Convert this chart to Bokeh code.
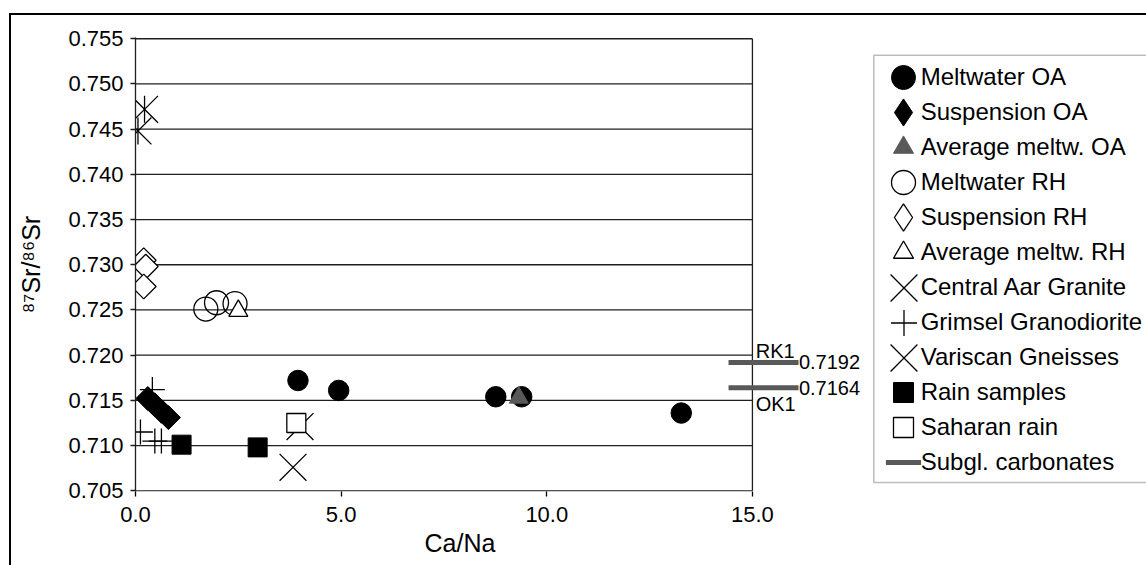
import math
from bokeh.plotting import figure
from bokeh.models import (Range1d, FixedTicker, PrintfTickFormatter, Legend, LegendItem,
                          BoxAnnotation, Label, Title)
from bokeh.embed import file_html
from bokeh.resources import INLINE

# ---------------- data ----------------
meltwater_oa_x = [3.95, 4.94, 8.76, 9.39, 13.27]
meltwater_oa_y = [0.7172, 0.7161, 0.7154, 0.7154, 0.7136]
suspension_oa_x = [0.30, 0.47, 0.63, 0.80]
suspension_oa_y = [0.7152, 0.7145, 0.7138, 0.7131]
avg_meltw_oa_x = [9.32]
avg_meltw_oa_y = [0.7153]
meltwater_rh_x = [1.71, 1.97, 2.42]
meltwater_rh_y = [0.7251, 0.7258, 0.7257]
suspension_rh_x = [0.20, 0.25, 0.20]
suspension_rh_y = [0.7305, 0.7298, 0.7276]
avg_meltw_rh_x = [2.50]
avg_meltw_rh_y = [0.7249]
central_aar_x = [0.06, 0.22]
central_aar_y = [0.7448, 0.7472]
grimsel_x = [0.41, 0.12, 0.47, 0.63]
grimsel_y = [0.7162, 0.7115, 0.7105, 0.7105]
variscan_x = [3.83, 4.00]
variscan_y = [0.7076, 0.7121]
rain_x = [1.12, 2.97]
rain_y = [0.7101, 0.7098]
saharan_x = [3.91]
saharan_y = [0.7125]
carbonate_names = ["RK1", "OK1"]
carbonate_values = [0.7192, 0.7164]

series_labels = ["Meltwater OA", "Suspension OA", "Average meltw. OA", "Meltwater RH",
                 "Suspension RH", "Average meltw. RH", "Central Aar Granite",
                 "Grimsel Granodiorite", "Variscan Gneisses", "Rain samples",
                 "Saharan rain", "Subgl. carbonates"]

x_ticks = [0, 5, 10, 15]
y_ticks = [0.705, 0.710, 0.715, 0.720, 0.725, 0.730, 0.735, 0.740, 0.745, 0.750, 0.755]

# ---------------- styling / layout constants ----------------
FONT = "Liberation Sans"
GRID = "#1f1f1f"
GREY = "#595959"
CARB_X = 15.27        # centre of the carbonate bars
NAME_X = 15.08
VAL_X = 16.13
# legend geometry (px, relative to the plot frame: x from left, y up from bottom)
LEG_MARK_CX = 768
LEG_FIRST_CY = 414
LEG_PITCH = 35
LEG_LABEL_X = 785.7
legend_marker_sizes = [24, 27, 20, 24, 27, 20, 38, 26, 38, 20, 20, 35]

p = figure(width=1135, height=550, output_backend="svg", toolbar_location=None,
           x_range=Range1d(0, 24.63), y_range=Range1d(0.70492, 0.75514),
           min_border_left=124, min_border_right=0, min_border_top=22,
           min_border_bottom=76, background_fill_color="white",
           border_fill_color="white")
p.styles = {"margin-left": "9px", "margin-top": "13px",
            "border-left": "2px solid black", "border-top": "2px solid black",
            "box-sizing": "content-box"}
p.outline_line_color = None
p.xgrid.visible = False
p.ygrid.visible = False

xa = p.xaxis[0]
xa.ticker = FixedTicker(ticks=x_ticks)
xa.formatter = PrintfTickFormatter(format="%.1f")
xa.axis_line_color = None
xa.major_tick_out = 5
xa.major_tick_in = 0
xa.minor_tick_out = 0
xa.minor_tick_in = 0
xa.major_tick_line_color = "black"
xa.major_tick_line_width = 1.3
xa.major_label_text_font = FONT
xa.major_label_text_font_size = "22px"
xa.major_label_text_color = "black"
xa.major_label_standoff = 10

p.add_layout(Title(text="Ca/Na", align="left", offset=289, standoff=5,
                   text_font=FONT, text_font_size="25px", text_font_style="normal",
                   text_color="black"), "below")

ya = p.yaxis[0]
ya.ticker = FixedTicker(ticks=y_ticks)
ya.formatter = PrintfTickFormatter(format="%.3f")
ya.axis_line_color = GRID
ya.axis_line_width = 1.3
ya.major_tick_out = 5
ya.major_tick_in = 0
ya.minor_tick_out = 0
ya.minor_tick_in = 0
ya.major_tick_line_color = GRID
ya.major_tick_line_width = 1.3
ya.major_label_text_font = FONT
ya.major_label_text_font_size = "22px"
ya.major_label_text_color = "black"
ya.major_label_standoff = 7
ya.axis_label = "\u2078\u2077Sr/\u2078\u2076Sr"
ya.axis_label_text_font = FONT
ya.axis_label_text_font_size = "25px"
ya.axis_label_text_font_style = "normal"
ya.axis_label_text_color = "black"
ya.axis_label_standoff = 20

# grid lines (only over the plotted x extent) and right border
p.segment(x0=x_ticks[0], x1=x_ticks[-1], y0=y_ticks, y1=y_ticks,
          line_color=GRID, line_width=1.3)
p.segment(x0=[x_ticks[-1]], x1=[x_ticks[-1]], y0=[y_ticks[0]], y1=[y_ticks[-1]],
          line_color=GRID, line_width=1.3)

# ---------------- series ----------------
r_melt_oa = p.scatter(meltwater_oa_x, meltwater_oa_y, marker="circle", size=20.5,
                      fill_color="black", line_color="black")
r_sus_oa_leg = p.scatter(suspension_oa_x, suspension_oa_y, marker="diamond", size=22,
                         fill_color="black", line_color="black")
r_sus_oa = p.scatter(suspension_oa_x, suspension_oa_y, marker="square", angle=math.pi / 4,
                     size=17, fill_color="black", line_color="black")
r_avg_oa = p.scatter(avg_meltw_oa_x, avg_meltw_oa_y, marker="triangle", size=19,
                     fill_color=GREY, line_color=GREY)
r_melt_rh = p.scatter(meltwater_rh_x, meltwater_rh_y, marker="circle", size=24,
                      fill_color=None, line_color="black", line_width=1.3)
r_sus_rh_leg = p.scatter(suspension_rh_x, suspension_rh_y, marker="diamond", size=22,
                         fill_color="white", line_color="black", line_width=1.3)
r_sus_rh = p.scatter(suspension_rh_x, suspension_rh_y, marker="square", angle=math.pi / 4,
                     size=17.5, fill_color="white", line_color="black", line_width=1.3)
r_avg_rh = p.scatter(avg_meltw_rh_x, avg_meltw_rh_y, marker="triangle", size=19,
                     fill_color="white", line_color="black", line_width=1.3)
r_aar = p.scatter(central_aar_x, central_aar_y, marker="x", size=38,
                  line_color="black", line_width=1.3)
r_aar_v = p.scatter(central_aar_x, central_aar_y, marker="dash", angle=math.pi / 2, size=27,
                    line_color="black", line_width=1.3)
r_grim = p.scatter(grimsel_x, grimsel_y, marker="cross", size=25,
                   line_color="black", line_width=1.3)
r_var = p.scatter(variscan_x, variscan_y, marker="x", size=38,
                  line_color="black", line_width=1.3)
r_rain = p.scatter(rain_x, rain_y, marker="square", size=19,
                   fill_color="black", line_color="black")
r_sah = p.scatter(saharan_x, saharan_y, marker="square", size=19,
                  fill_color="white", line_color="black", line_width=1.3)
r_carb = p.scatter(x=CARB_X, y=carbonate_values, marker="dash", size=70,
                   line_color=GREY, line_width=5)

# carbonate labels
for i, (name, val) in enumerate(zip(carbonate_names, carbonate_values)):
    above = (i == 0)
    p.add_layout(Label(x=NAME_X, y=val, text=name,
                       text_baseline="bottom" if above else "top",
                       y_offset=0 if above else -5,
                       text_font=FONT, text_font_size="20px", text_color="black"))
    p.add_layout(Label(x=VAL_X, y=val, text=f"{val:.4f}", text_baseline="middle",
                       text_font=FONT, text_font_size="20px", text_color="black"))

# ---------------- legend ----------------
legend_renderers = [r_melt_oa, r_sus_oa_leg, r_avg_oa, r_melt_rh, r_sus_rh_leg, r_avg_rh,
                    r_aar, r_grim, r_var, r_rain, r_sah, r_carb]

# one glyph-only legend per entry (so each symbol keeps its own size)
for i, (rend, msize) in enumerate(zip(legend_renderers, legend_marker_sizes)):
    box = int(round(msize / 0.4))
    cy = LEG_FIRST_CY - LEG_PITCH * i
    p.add_layout(Legend(items=[LegendItem(label="", renderers=[rend])],
                        location=(LEG_MARK_CX - box / 2, cy - box / 2),
                        glyph_width=box, glyph_height=box, padding=0, margin=0,
                        spacing=0, label_width=0, label_height=0, label_standoff=0,
                        border_line_color=None, background_fill_alpha=0))

# the text column of the legend
n_items = len(series_labels)
label_legend = Legend(
    items=[LegendItem(label=lab, renderers=[r]) for lab, r in zip(series_labels, legend_renderers)],
    location=(LEG_LABEL_X, LEG_FIRST_CY - LEG_PITCH * (n_items - 1) - LEG_PITCH / 2),
    glyph_width=0, glyph_height=LEG_PITCH, label_height=LEG_PITCH, spacing=0,
    padding=0, margin=0, label_standoff=0, label_text_font=FONT,
    label_text_font_size="24px", label_text_color="black",
    border_line_color=None, background_fill_alpha=0)
p.add_layout(label_legend)

# legend frame
p.add_layout(BoxAnnotation(left=738.3, right=1100, top=436.3, bottom=9,
                           left_units="screen", right_units="screen",
                           top_units="screen", bottom_units="screen",
                           fill_color=None, line_color="#222222", line_width=1.5))

open("out.html", "w").write(file_html(p, INLINE))
